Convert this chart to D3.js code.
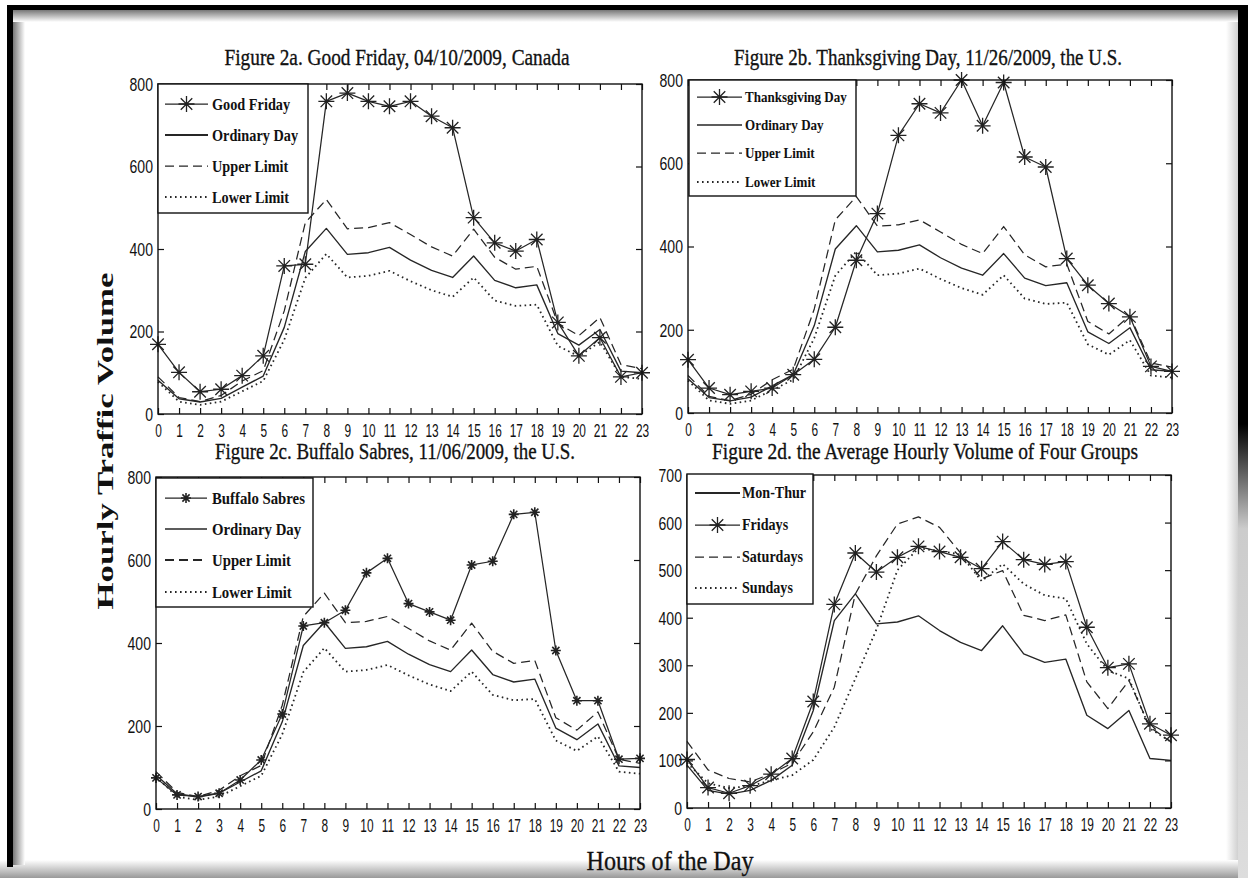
<!DOCTYPE html>
<html>
<head>
<meta charset="utf-8">
<script src="https://cdn.jsdelivr.net/npm/d3@7.9.0/dist/d3.min.js"></script>
<style>
  body { margin: 0; background: #fff; }
  svg { display: block; }
</style>
</head>
<body>
<svg id="chart" width="1248" height="878"></svg>
<script>
// hourly traffic values
const hours = d3.range(24);
const ordinaryDay   = [82, 37, 29, 38, 65, 92, 210, 394, 450, 387, 391, 404, 373, 348, 331, 383, 324, 306, 313, 195, 167, 205, 104, 100];
const upperLimit    = [90, 40, 30, 45, 80, 105, 250, 464, 520, 449, 452, 464, 435, 405, 383, 448, 380, 351, 358, 220, 190, 234, 120, 110];
const lowerLimit    = [78, 30, 22, 30, 55, 80, 180, 330, 388, 331, 335, 347, 322, 300, 284, 331, 275, 262, 265, 165, 140, 175, 90, 85];
const goodFriday    = [169, 101, 54, 60, 93, 141, 359, 363, 758, 778, 758, 746, 758, 722, 694, 476, 415, 395, 423, 222, 141, 185, 90, 100];
const thanksgiving  = [128, 60, 44, 52, 60, 92, 129, 206, 367, 479, 667, 743, 721, 800, 690, 794, 615, 591, 371, 307, 263, 231, 112, 100];
const buffaloSabres = [75, 34, 30, 38, 70, 118, 229, 441, 449, 479, 569, 604, 495, 475, 455, 588, 597, 710, 715, 382, 261, 261, 120, 122];
const monThur   = [90, 37, 29, 37, 58, 90, 205, 394, 450, 387, 391, 404, 373, 348, 331, 383, 324, 306, 313, 195, 167, 205, 104, 100];
const fridays   = [102, 43, 31, 47, 71, 104, 224, 428, 536, 496, 527, 550, 539, 527, 503, 560, 522, 512, 518, 380, 295, 303, 177, 153];
const saturdays = [140, 80, 62, 55, 72, 94, 160, 254, 450, 530, 597, 612, 590, 536, 482, 499, 405, 394, 406, 265, 209, 268, 170, 139];
const sundays   = [95, 52, 42, 46, 58, 69, 101, 170, 272, 375, 500, 546, 540, 533, 477, 513, 471, 447, 440, 345, 289, 272, 167, 139];

const ticks800 = [0, 200, 400, 600, 800];
const ticks700 = [0, 100, 200, 300, 400, 500, 600, 700];

const svg = d3.select("#chart");
const ink = "#262626";
const serif = "'Liberation Serif', 'DejaVu Serif', serif";

// ---- outer frame with shadow ----
const defs = svg.append("defs");
function grad(id, x1, y1, x2, y2, stops) {
  const g = defs.append("linearGradient").attr("id", id)
    .attr("x1", x1).attr("y1", y1).attr("x2", x2).attr("y2", y2);
  stops.forEach(s => g.append("stop").attr("offset", s[0]).attr("stop-color", s[1]));
}
grad("shTop", 0, 0, 0, 1, [[0, "#777"], [1, "#fff"]]);
grad("shLeft", 0, 0, 1, 0, [[0, "#777"], [1, "#fff"]]);
grad("shBottom", 0, 0, 0, 1, [[0, "#fff"], [1, "#999"]]);
grad("shRight", 0, 0, 1, 0, [[0, "#fff"], [1, "#aaa"]]);
grad("rightBar", 0, 0, 0, 1, [[0, "#000"], [0.48, "#000"], [0.6, "#ccc"], [1, "#ddd"]]);

svg.append("rect").attr("x", 0).attr("y", 0).attr("width", 1248).attr("height", 878).attr("fill", "#fff");
svg.append("rect").attr("x", 1226).attr("y", 10).attr("width", 22).attr("height", 868).attr("fill", "url(#shRight)");
svg.append("rect").attr("x", 0).attr("y", 860).attr("width", 1248).attr("height", 18).attr("fill", "url(#shBottom)");
svg.append("rect").attr("x", 13).attr("y", 10).attr("width", 12).attr("height", 855).attr("fill", "url(#shLeft)");
svg.append("rect").attr("x", 13).attr("y", 10).attr("width", 1225).attr("height", 12).attr("fill", "url(#shTop)");
svg.append("rect").attr("x", 7).attr("y", 5).attr("width", 6).attr("height", 862).attr("fill", "#000");
svg.append("rect").attr("x", 7).attr("y", 5).attr("width", 1241).attr("height", 5).attr("fill", "#000");
svg.append("rect").attr("x", 1238).attr("y", 5).attr("width", 10).attr("height", 873).attr("fill", "url(#rightBar)");

// ---- helpers ----
function starPath(cx, cy, r) {
  const d = r * 0.72;
  return `M${cx - r},${cy}H${cx + r}M${cx},${cy - r}V${cy + r}` +
         `M${cx - d},${cy - d}L${cx + d},${cy + d}M${cx - d},${cy + d}L${cx + d},${cy - d}`;
}

const styles = {
  star:   { w: 1.25, dash: null },
  solid:  { w: 1.35, dash: null },
  dashed: { w: 1.25, dash: "9,5" },
  dotted: { w: 1.8, dash: "1.6,3.4" }
};

function drawPanel(p) {
  const x = d3.scaleLinear().domain([0, 23]).range([p.left, p.right]);
  const y = d3.scaleLinear().domain([0, p.ymax]).range([p.bottom, p.top]);
  const g = svg.append("g");

  // title
  g.append("text")
    .attr("x", p.titleX).attr("y", p.titleY)
    .attr("text-anchor", "middle")
    .attr("textLength", p.titleLen).attr("lengthAdjust", "spacingAndGlyphs")
    .style("font-family", serif)
    .style("font-size", "24px").attr("fill", "#111")
    .attr("stroke", "#111").attr("stroke-width", 0.35)
    .text(p.title);

  // series
  p.series.forEach(s => {
    const st = styles[s.style];
    const line = d3.line().x((d, i) => x(hours[i])).y(d => y(d));
    g.append("path").attr("d", line(s.data))
      .attr("fill", "none").attr("stroke", ink)
      .attr("stroke-width", st.w)
      .attr("stroke-dasharray", st.dash)
      .attr("stroke-linejoin", "round");
    if (s.style === "star") {
      g.selectAll(null).data(s.data).join("path")
        .attr("d", (d, i) => starPath(x(hours[i]), y(d), p.markerR))
        .attr("fill", "none").attr("stroke", "#222").attr("stroke-width", p.markerW);
    }
  });

  // axes: MATLAB-like box with inward ticks
  const fontTick = "'Liberation Sans', Arial, sans-serif";
  const bottom = g.append("g").attr("transform", `translate(0,${p.bottom})`)
    .call(d3.axisBottom(x).tickValues(hours).tickSizeInner(-6).tickSizeOuter(0).tickPadding(10));
  const top = g.append("g").attr("transform", `translate(0,${p.top})`)
    .call(d3.axisTop(x).tickValues(hours).tickSizeInner(-6).tickSizeOuter(0).tickFormat(""));
  const left = g.append("g").attr("transform", `translate(${p.left},0)`)
    .call(d3.axisLeft(y).tickValues(p.yticks).tickSizeInner(-6).tickSizeOuter(0).tickPadding(6.5));
  const right = g.append("g").attr("transform", `translate(${p.right},0)`)
    .call(d3.axisRight(y).tickValues(p.yticks).tickSizeInner(-6).tickSizeOuter(0).tickFormat(""));
  [bottom, top, left, right].forEach(a => {
    a.select(".domain").remove();
    a.selectAll("line").attr("stroke", "#111").attr("stroke-width", 1.2);
  });
  bottom.selectAll("text")
    .style("font-family", fontTick).style("font-size", "18px").attr("fill", "#111")
    .attr("transform", "scale(0.66,1)");
  left.selectAll("text")
    .style("font-family", fontTick).style("font-size", "18px").attr("fill", "#111")
    .attr("dy", "0.36em")
    .attr("transform", "scale(0.78,1)");

  g.append("rect")
    .attr("x", p.left).attr("y", p.top)
    .attr("width", p.right - p.left).attr("height", p.bottom - p.top)
    .attr("fill", "none").attr("stroke", "#111").attr("stroke-width", 1.4);

  // legend
  const L = p.legend;
  const lg = g.append("g");
  lg.append("rect")
    .attr("x", L.x).attr("y", L.y).attr("width", L.w).attr("height", L.h)
    .attr("fill", "#fff").attr("stroke", "#111").attr("stroke-width", 1.4);
  p.series.forEach((s, i) => {
    const st = styles[s.style];
    const ry = L.rows[i];
    lg.append("line")
      .attr("x1", L.lx0).attr("x2", L.lx1).attr("y1", ry).attr("y2", ry)
      .attr("stroke", ink)
      .attr("stroke-width", s.legendW || st.w)
      .attr("stroke-dasharray", st.dash);
    if (s.style === "star") {
      lg.append("path").attr("d", starPath((L.lx0 + L.lx1) / 2, ry, p.markerR))
        .attr("fill", "none").attr("stroke", "#222").attr("stroke-width", p.markerW);
    }
    lg.append("text")
      .attr("transform", `translate(${L.tx},${ry}) scale(${L.sx},1)`)
      .attr("dy", "0.33em")
      .style("font-family", serif)
      .style("font-weight", "bold")
      .style("font-size", L.fs + "px").attr("fill", "#111")
      .text(s.name);
  });
}

const panels = [
  {
    title: "Figure 2a. Good Friday, 04/10/2009, Canada",
    titleX: 397, titleY: 65, titleLen: 345,
    left: 158, right: 642, top: 84, bottom: 414,
    ymax: 800, yticks: ticks800, markerR: 8, markerW: 1.3,
    series: [
      { name: "Good Friday", data: goodFriday, style: "star" },
      { name: "Ordinary Day", data: ordinaryDay, style: "solid", legendW: 2.2 },
      { name: "Upper Limit", data: upperLimit, style: "dashed" },
      { name: "Lower Limit", data: lowerLimit, style: "dotted" }
    ],
    legend: { x: 158, y: 84, w: 150, h: 129, rows: [104, 135, 166, 197], lx0: 165, lx1: 208, tx: 212, fs: 17, sx: 0.84 }
  },
  {
    title: "Figure 2b. Thanksgiving Day, 11/26/2009, the U.S.",
    titleX: 928, titleY: 65, titleLen: 388,
    left: 688, right: 1172, top: 80, bottom: 413,
    ymax: 800, yticks: ticks800, markerR: 8, markerW: 1.3,
    series: [
      { name: "Thanksgiving Day", data: thanksgiving, style: "star" },
      { name: "Ordinary Day", data: ordinaryDay, style: "solid" },
      { name: "Upper Limit", data: upperLimit, style: "dashed" },
      { name: "Lower Limit", data: lowerLimit, style: "dotted" }
    ],
    legend: { x: 689, y: 80, w: 167, h: 116, rows: [97, 125, 153, 182], lx0: 697, lx1: 742, tx: 745, fs: 15, sx: 0.87 }
  },
  {
    title: "Figure 2c. Buffalo Sabres, 11/06/2009, the U.S.",
    titleX: 395, titleY: 459, titleLen: 360,
    left: 156, right: 640, top: 477, bottom: 809,
    ymax: 800, yticks: ticks800, markerR: 5, markerW: 1.6,
    series: [
      { name: "Buffalo Sabres", data: buffaloSabres, style: "star" },
      { name: "Ordinary Day", data: ordinaryDay, style: "solid" },
      { name: "Upper Limit", data: upperLimit, style: "dashed", legendW: 2.2 },
      { name: "Lower Limit", data: lowerLimit, style: "dotted" }
    ],
    legend: { x: 156, y: 478, w: 157, h: 129, rows: [498, 529, 560, 592], lx0: 165, lx1: 207, tx: 212, fs: 17, sx: 0.87 }
  },
  {
    title: "Figure 2d. the Average Hourly Volume of Four Groups",
    titleX: 925, titleY: 459, titleLen: 426,
    left: 687, right: 1171, top: 475, bottom: 808,
    ymax: 700, yticks: ticks700, markerR: 8, markerW: 1.3,
    series: [
      { name: "Mon-Thur", data: monThur, style: "solid", legendW: 2.2 },
      { name: "Fridays", data: fridays, style: "star" },
      { name: "Saturdays", data: saturdays, style: "dashed" },
      { name: "Sundays", data: sundays, style: "dotted" }
    ],
    legend: { x: 687, y: 474, w: 126, h: 130, rows: [493, 525, 557, 588], lx0: 695, lx1: 740, tx: 742, fs: 16, sx: 0.88 }
  }
];

panels.forEach(drawPanel);

// shared axis titles
svg.append("text")
  .attr("transform", "translate(113,441) rotate(-90)")
  .attr("text-anchor", "middle")
  .attr("textLength", 337).attr("lengthAdjust", "spacingAndGlyphs")
  .style("font-family", serif)
  .style("font-weight", "bold").style("font-size", "24px").attr("fill", "#111")
  .text("Hourly Traffic Volume");

svg.append("text")
  .attr("x", 670).attr("y", 870)
  .attr("text-anchor", "middle")
  .attr("textLength", 167).attr("lengthAdjust", "spacingAndGlyphs")
  .style("font-family", serif)
  .style("font-size", "28px").attr("fill", "#111")
  .attr("stroke", "#111").attr("stroke-width", 0.3)
  .text("Hours of the Day");
</script>
</body>
</html>
